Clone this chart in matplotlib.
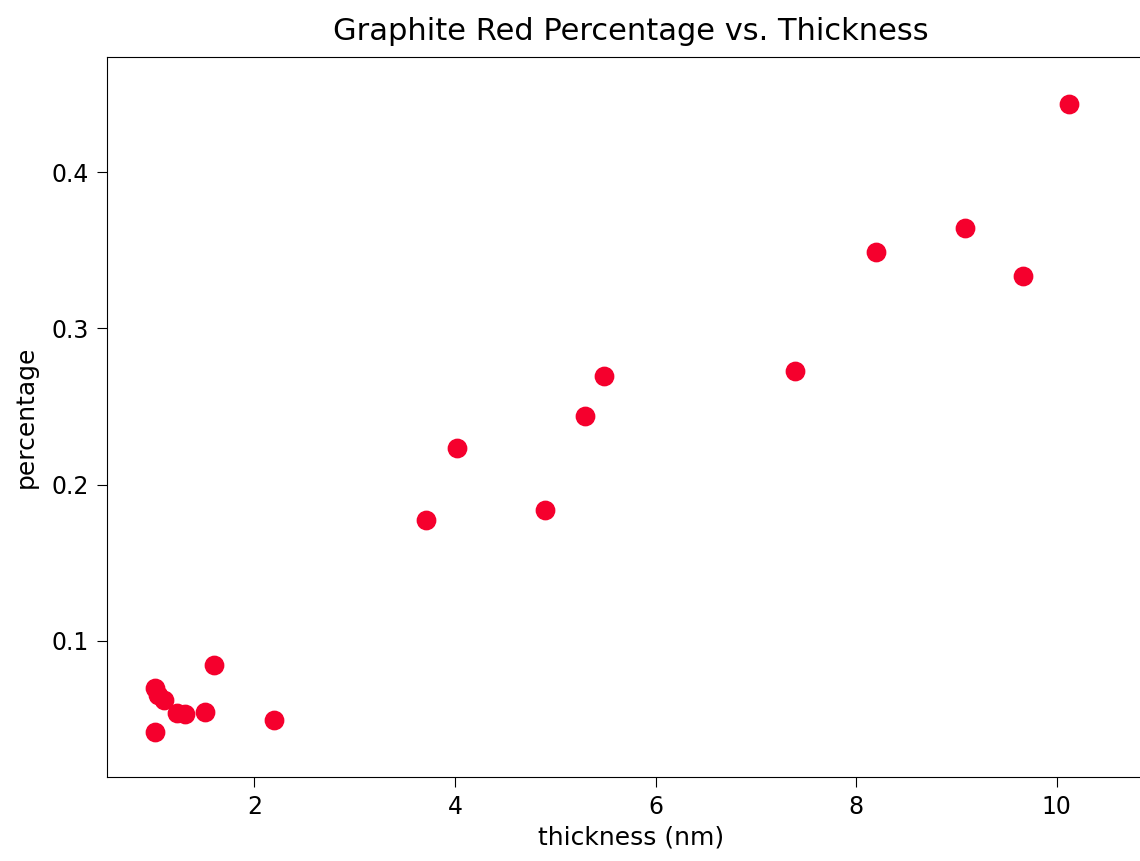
import matplotlib
matplotlib.use("Agg")
import matplotlib.pyplot as plt

thickness = [10.12, 9.66, 9.09, 8.20, 7.39, 5.49, 5.30, 4.90, 4.02, 3.71,
             2.20, 1.60, 1.51, 1.01, 1.04, 1.10, 1.23, 1.31, 1.01]
percentage = [0.4436, 0.3333, 0.364, 0.3487, 0.2724, 0.2692, 0.2442, 0.184, 0.2237, 0.177,
              0.0494, 0.0846, 0.0545, 0.070, 0.0655, 0.062, 0.0535, 0.053, 0.0417]

fig = plt.figure(figsize=(11.4, 8.61), dpi=100)
ax = fig.add_axes([107/1140, 1 - 777/861, (1155 - 107)/1140, 720/861])
ax.scatter(thickness, percentage, s=175, color='#f5002d', zorder=3)
ax.set_xlim(0.53, 10.98)
ax.set_ylim(0.0128, 0.4737)
ax.set_xticks([2, 4, 6, 8, 10])
ax.set_yticks([0.1, 0.2, 0.3, 0.4])
ax.tick_params(labelsize=17, length=7, pad=6)
ax.set_xlabel('thickness (nm)', fontsize=18, labelpad=5)
ax.set_ylabel('percentage', fontsize=18, labelpad=10)
ax.set_title('Graphite Red Percentage vs. Thickness', fontsize=22, pad=12)
fig.savefig('out.png', dpi=100)
